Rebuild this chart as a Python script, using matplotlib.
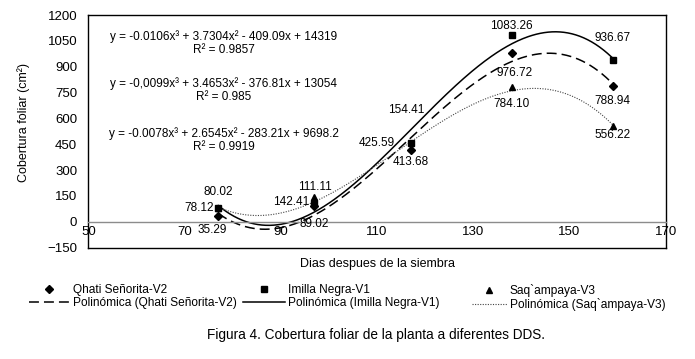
import matplotlib
matplotlib.use("Agg")
import matplotlib.pyplot as plt
from matplotlib.lines import Line2D
import numpy as np

plt.rcParams['font.family'] = ['Liberation Sans', 'DejaVu Sans']

# DATA
dds = [77, 97, 117, 138, 159]                       # dias despues de la siembra

v1_vals = [80.02, 111.11, 454.41, 1083.26, 936.67]  # Imilla Negra-V1
v1_labs = ["80.02", "111.11", "154.41", "1083.26", "936.67"]
v2_vals = [35.29, 89.02, 413.68, 976.72, 788.94]    # Qhati Señorita-V2
v2_labs = ["35.29", "89.02", "413.68", "976.72", "788.94"]
v3_vals = [78.12, 142.41, 425.59, 784.10, 556.22]   # Saq`ampaya-V3
v3_labs = ["78.12", "142.41", "425.59", "784.10", "556.22"]

eq_texts = [
    "y = -0.0106x³ + 3.7304x² - 409.09x + 14319\nR² = 0.9857",
    "y = -0,0099x³ + 3.4653x² - 376.81x + 13054\nR² = 0.985",
    "y = -0.0078x³ + 2.6545x² - 283.21x + 9698.2\nR² = 0.9919",
]

yticks = np.arange(-150, 1201, 150)
xticks = np.arange(50, 171, 20)

# label offsets (pixels)
v1_off = [(0, 16), (0, 16), (-4, 33), (0, 9), (0, 22)]
v2_off = [(-6, -14), (0, -18), (0, -12), (3, -20), (0, -15)]
v3_off = [(-4, 0, 'right'), (-5, -5, 'right'), (-16, 5, 'right'), (0, -17, 'center'), (0, -9, 'center')]

W, H = 695, 359
def fx(x):
    return x / W
def fy(y):
    return 1 - y / H

fig = plt.figure(figsize=(W / 100, H / 100), dpi=100)
ax = fig.add_axes([fx(88.3), fy(247.5), (665.7 - 88.3) / W, (247.5 - 15) / H])

ax.set_xlim(50, 170)
ax.set_ylim(-150, 1200)
ax.set_xticks(xticks)
ax.set_yticks(yticks)
ax.tick_params(axis='x', length=0, pad=3, labelsize=9.5)
ax.tick_params(axis='y', length=0, pad=8, labelsize=9.5)

for s in ['left', 'right', 'top']:
    ax.spines[s].set_color('black')
    ax.spines[s].set_linewidth(1)
ax.spines['bottom'].set_position(('data', 0))
ax.spines['bottom'].set_color('#8c8c8c')
ax.spines['bottom'].set_linewidth(1)
ax.plot([0, 1], [0, 0], transform=ax.transAxes, color='black', lw=1, clip_on=False)

# trendlines (cubic fit of each series)
xs = np.linspace(min(dds), max(dds), 300)
dash_style = (0, (6.5, 3.3))
dot_style = (0, (1, 1.3))
c2 = np.polyfit(dds, v2_vals, 3)
c1 = np.polyfit(dds, v1_vals, 3)
c3 = np.polyfit(dds, v3_vals, 3)
ax.plot(xs, np.polyval(c2, xs), color='black', lw=1.1, linestyle=dash_style)
ax.plot(xs, np.polyval(c1, xs), color='black', lw=1.1)
ax.plot(xs, np.polyval(c3, xs), color='#444444', lw=0.8, linestyle=dot_style)

# markers
ax.plot(dds, v2_vals, ls='none', marker='D', ms=3.6, color='black', zorder=3)
ax.plot(dds, v1_vals, ls='none', marker='s', ms=4.6, color='black', zorder=3)
ax.plot(dds, v3_vals, ls='none', marker='^', ms=5, color='black', zorder=2)

# data labels
lab_fs = 8.5
for x, v, t, (dx, dy) in zip(dds, v1_vals, v1_labs, v1_off):
    ax.annotate(t, (x, v), xytext=(dx, dy), textcoords='offset pixels',
                ha='center', va='center', fontsize=lab_fs)
for x, v, t, (dx, dy) in zip(dds, v2_vals, v2_labs, v2_off):
    ax.annotate(t, (x, v), xytext=(dx, dy), textcoords='offset pixels',
                ha='center', va='center', fontsize=lab_fs)
for x, v, t, (dx, dy, ha) in zip(dds, v3_vals, v3_labs, v3_off):
    ax.annotate(t, (x, v), xytext=(dx, dy), textcoords='offset pixels',
                ha=ha, va='center', fontsize=lab_fs)

# trendline equations
for t, yc in zip(eq_texts, [43, 90, 140]):
    fig.text(fx(224), fy(yc), t, ha='center', va='center', fontsize=8.5,
             linespacing=1.05, multialignment='center')

# axis titles
fig.text(fx(24), fy(122), "Cobertura foliar (cm²)", rotation=90,
         ha='center', va='center', fontsize=9)
fig.text(fx(378), fy(264), "Dias despues de la siembra", ha='center', va='center', fontsize=9)

# legend, one block per column
leg_cols = [
    (29, 3.4,
     Line2D([], [], ls='none', marker='D', ms=3.6, color='black'),
     Line2D([], [], color='black', lw=1.1, linestyle=dash_style),
     "Qhati Señorita-V2", "Polinómica (Qhati Señorita-V2)"),
    (243, 3.5,
     Line2D([], [], ls='none', marker='s', ms=4.6, color='black'),
     Line2D([], [], color='black', lw=1.1),
     "Imilla Negra-V1", "Polinómica (Imilla Negra-V1)"),
    (472, 2.9,
     Line2D([], [], ls='none', marker='^', ms=5, color='black'),
     Line2D([], [], color='#444444', lw=0.8, linestyle=dot_style),
     "Saq`ampaya-V3", "Polinómica (Saq`ampaya-V3)"),
]
for x0, hl, hm, hline, l1, l2 in leg_cols:
    fig.legend(handles=[hm, hline], labels=[l1, l2], loc='upper left',
               bbox_to_anchor=(fx(x0), fy(284)), frameon=False, borderpad=0,
               borderaxespad=0, handlelength=hl, handletextpad=0.25,
               labelspacing=0.1, fontsize=8.6)

fig.text(fx(376), fy(335), "Figura 4. Cobertura foliar de la planta a diferentes DDS.",
         ha='center', va='center', fontsize=9.8)

fig.savefig("out.png", dpi=100)
